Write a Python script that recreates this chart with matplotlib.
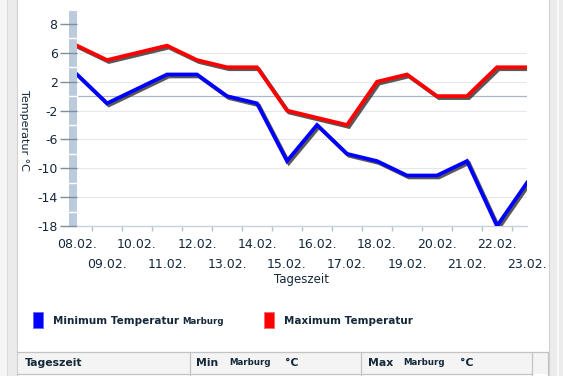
import numpy as np
import matplotlib
matplotlib.use('Agg')
import matplotlib.pyplot as plt
import matplotlib.patheffects as pe
from matplotlib.patches import Rectangle
from matplotlib.lines import Line2D
import matplotlib.transforms as mtransforms

# data
dates = ['08.02.', '09.02.', '10.02.', '11.02.', '12.02.', '13.02.', '14.02.', '15.02.',
         '16.02.', '17.02.', '18.02.', '19.02.', '20.02.', '21.02.', '22.02.', '23.02.']
temp_min = [3, -1, 1, 3, 3, 0, -1, -9, -4, -8, -9, -11, -11, -9, -18, -12]
temp_max = [7, 5, 6, 7, 5, 4, 4, -2, -3, -4, 2, 3, 0, 0, 4, 4]
ytick_values = [10, 6, 2, -2, -6, -10, -14, -18]
ytick_labels = ['8', '6', '2', '-2', '-6', '-10', '-14', '-18']

W, H = 563, 376
TXT = '#14283a'

fig = plt.figure(figsize=(W / 100, H / 100), dpi=100)
fig.patch.set_facecolor('white')


def px(x, y, w, h):
    """pixel box (top-left origin) -> figure fraction rect"""
    return (x / W, 1 - (y + h) / H, w / W, h / H)


def frect(x, y, w, h, **kw):
    l, b, ww, hh = px(x, y, w, h)
    fig.add_artist(Rectangle((l, b), ww, hh, transform=fig.transFigure, **kw))


def fline(x0, y0, x1, y1, **kw):
    fig.add_artist(Line2D([x0 / W, x1 / W], [1 - y0 / H, 1 - y1 / H],
                          transform=fig.transFigure, **kw))


def ftext(x, y, s, **kw):
    fig.text(x / W, 1 - y / H, s, **kw)


# page frame on the left and right
frect(0, 0, 7, H, facecolor='#f5f5f5', edgecolor='none')
frect(7, 0, 10, H, facecolor='#ebebeb', edgecolor='none')
fline(6.5, 0, 6.5, H, color='#dcdcdc', lw=0.8)
fline(16.5, 0, 16.5, H, color='#d0d0d0', lw=0.8)
frect(549, 0, 14, H, facecolor='#ececec', edgecolor='none')
fline(549, 0, 549, H, color='#d0d0d0', lw=0.8)
fline(557.5, 0, 557.5, H, color='#f8f8f8', lw=1.5)

# plot area
ax = fig.add_axes(px(77, 11, 450, 215))
ax.set_facecolor('none')
x = np.arange(len(dates))

for vals, col in [(temp_min, '#0000ff'), (temp_max, '#ff0000')]:
    ax.plot(x, vals, color=col, lw=2.7, solid_joinstyle='miter', zorder=3,
            path_effects=[pe.SimpleLineShadow(offset=(1.4, -1.4), shadow_color='#222222', alpha=0.75),
                          pe.Normal()])

ax.set_xlim(0, len(dates) - 1)
ax.set_ylim(-18, 11.8)

for v in ytick_values[1:-1]:
    ax.axhline(v, color='#e4e8ec', lw=0.8, zorder=1)
ax.axhline(0, color='#a9b8c4', lw=0.9, zorder=1)

for s in ['top', 'right', 'left']:
    ax.spines[s].set_visible(False)
ax.spines['bottom'].set_color('#c6d2dc')
ax.spines['bottom'].set_linewidth(1.0)

# y ticks on the left of the grey band
ax.set_yticks(ytick_values, ytick_labels)
ax.tick_params(axis='y', length=12.5, width=1.0, color='#7f8e9b', pad=1.5,
               labelsize=9, labelcolor=TXT)

# staggered date labels
ax.set_xticks(x[::2], dates[::2])
ax.set_xticks(x[1::2], dates[1::2], minor=True)
ax.tick_params(axis='x', which='major', length=0, pad=8.5, labelsize=9, labelcolor=TXT)
ax.tick_params(axis='x', which='minor', length=0, pad=23, labelsize=9, labelcolor=TXT)

# small tick marks between the days
trans = mtransforms.blended_transform_factory(ax.transData, ax.transAxes)
bounds = x[:-1] + 0.5
ax.vlines(bounds, -0.025, 0, transform=trans, color='#b4c2ce', lw=1.0, clip_on=False)

# grey band left of the plot
frect(69, 11, 8, 215, facecolor='#bccbdc', edgecolor='none', zorder=0)
for v in [8, 4, 0, -4, -8, -12, -16]:
    yy = 11 + (11.8 - v) / (11.8 + 18) * 215
    fline(69, yy, 77, yy, color='white', lw=1.0)

ftext(302, 280, 'Tageszeit', ha='center', va='center', fontsize=8.5, color=TXT)
ftext(24, 130, 'Temperatur °C', ha='center', va='center', fontsize=8, color=TXT, rotation=270)

# legend
frect(33, 312, 10, 16, facecolor='#0000ff', edgecolor='#6666ff', lw=0.6)
ftext(53, 321, 'Minimum Temperatur', ha='left', va='center', fontsize=7.5,
      fontweight='bold', color=TXT)
ftext(182, 321.5, 'Marburg', ha='left', va='center', fontsize=6.2, fontweight='bold', color=TXT)
frect(264, 312, 10, 16, facecolor='#ff0000', edgecolor='#ff6666', lw=0.6)
ftext(284, 321, 'Maximum Temperatur', ha='left', va='center', fontsize=7.5,
      fontweight='bold', color=TXT)

# table header
frect(17, 352, 531, 22, facecolor='#f4f4f4', edgecolor='none')
fline(17, 352, 548, 352, color='#c4c4c4', lw=0.9)
fline(17, 373.5, 532, 373.5, color='#c4c4c4', lw=0.9)
for cx in [189.5, 360.5, 532]:
    fline(cx, 352, cx, H, color='#c4c4c4', lw=0.9)
fline(547.5, 352, 547.5, H, color='#c4c4c4', lw=0.9)

ftext(25, 363, 'Tageszeit', ha='left', va='center', fontsize=7.8, fontweight='bold', color=TXT)
ftext(196, 363, 'Min', ha='left', va='center', fontsize=7.8, fontweight='bold', color=TXT)
ftext(229, 362.5, 'Marburg', ha='left', va='center', fontsize=6.2, fontweight='bold', color=TXT)
ftext(285, 363, '°C', ha='left', va='center', fontsize=7.8, fontweight='bold', color=TXT)
ftext(368, 363, 'Max', ha='left', va='center', fontsize=7.8, fontweight='bold', color=TXT)
ftext(403, 362.5, 'Marburg', ha='left', va='center', fontsize=6.2, fontweight='bold', color=TXT)
ftext(460, 363, '°C', ha='left', va='center', fontsize=7.8, fontweight='bold', color=TXT)

fig.savefig('out.png', dpi=100)
